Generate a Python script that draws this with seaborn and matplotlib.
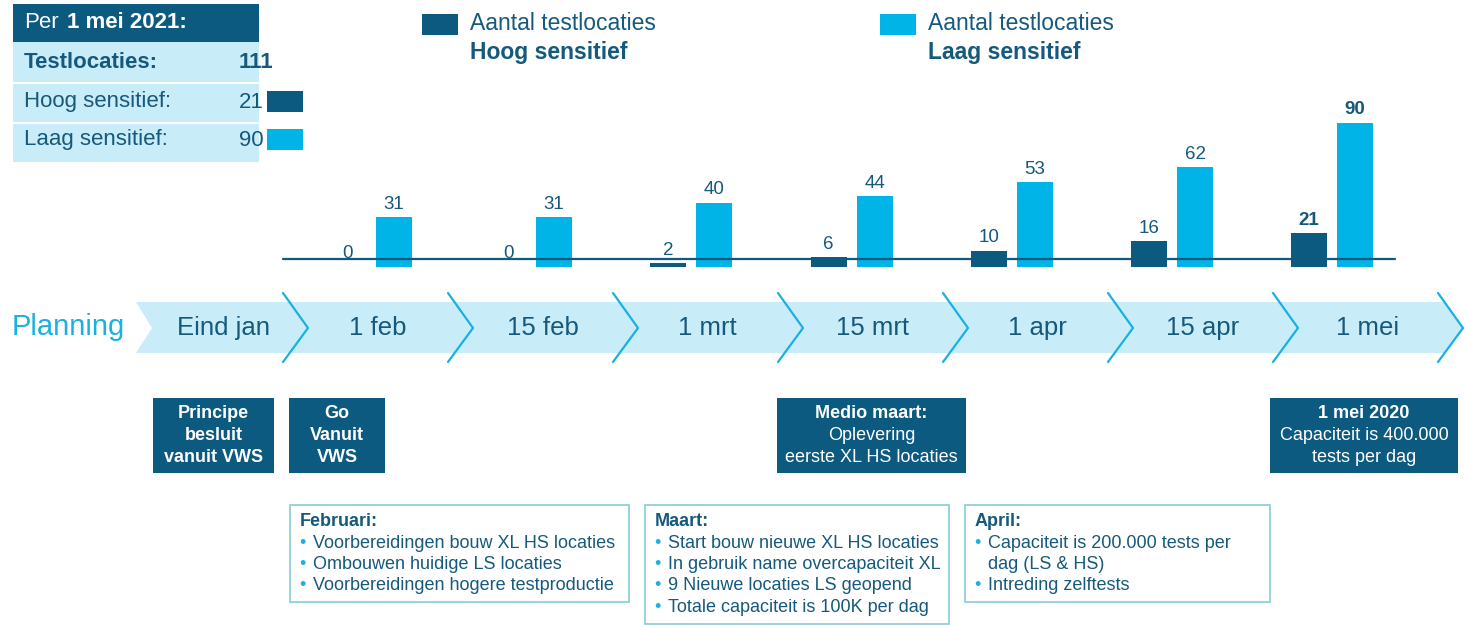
import matplotlib.pyplot as plt
import matplotlib.patches as mpatches
import pandas as pd
import seaborn as sns

# data
datums = ['1 feb', '15 feb', '1 mrt', '15 mrt', '1 apr', '15 apr', '1 mei']
hoog = [0, 0, 2, 6, 10, 16, 21]
laag = [31, 31, 40, 44, 53, 62, 90]
types = ['Hoog sensitief', 'Laag sensitief']

planning = ['Eind jan', '1 feb', '15 feb', '1 mrt', '15 mrt', '1 apr', '15 apr', '1 mei']

mijlpalen = [
    (['Principe', 'besluit', 'vanuit VWS'], [True, True, True]),
    (['Go', 'Vanuit', 'VWS'], [True, True, True]),
    (['Medio maart:', 'Oplevering', 'eerste XL HS locaties'], [True, False, False]),
    (['1 mei 2020', 'Capaciteit is 400.000', 'tests per dag'], [True, False, False]),
]

maanden = [
    ('Februari:', [('•', 'Voorbereidingen bouw XL HS locaties'),
                   ('•', 'Ombouwen huidige LS locaties'),
                   ('•', 'Voorbereidingen hogere testproductie')]),
    ('Maart:', [('•', 'Start bouw nieuwe XL HS locaties'),
                ('•', 'In gebruik name overcapaciteit XL'),
                ('•', '9 Nieuwe locaties LS geopend'),
                ('•', 'Totale capaciteit is 100K per dag')]),
    ('April:', [('•', 'Capaciteit is 200.000 tests per'),
                ('', 'dag (LS & HS)'),
                ('•', 'Intreding zelftests')]),
]

DARK = '#0c5a80'
LIGHT = '#00b4e8'
BAND = '#c9ecf9'
TXT = '#15597c'
CYAN = '#1ab0e2'
OUTLINE = '#86ccd6'

sns.set_style('white')
plt.rcParams['font.family'] = ['Liberation Sans', 'DejaVu Sans']

fig = plt.figure(figsize=(14.65, 6.25), dpi=100)

# background layer in pixel coordinates
bg = fig.add_axes([0, 0, 1, 1], zorder=0)
bg.set_xlim(0, 1465)
bg.set_ylim(625, 0)
bg.set_axis_off()

# summary table top left
bg.add_patch(mpatches.Rectangle((13, 4), 246, 38, color=DARK, lw=0))
bg.add_patch(mpatches.Rectangle((13, 42), 246, 120, color=BAND, lw=0))
for y in [83, 123]:
    bg.plot([13, 259], [y, y], color='white', lw=1.5)
bg.text(24, 23, 'Per', color='white', fontsize=16, va='center')
bg.text(67, 23, '1 mei 2021:', color='white', fontsize=16, va='center', weight='bold')
bg.text(24, 63, 'Testlocaties:', color=TXT, fontsize=16, va='center', weight='bold')
bg.text(239, 63, str(hoog[-1] + laag[-1]), color=TXT, fontsize=16, va='center', weight='bold')
bg.text(24, 102, types[0] + ':', color=TXT, fontsize=16, va='center')
bg.text(239, 102, str(hoog[-1]), color=TXT, fontsize=16, va='center')
bg.add_patch(mpatches.Rectangle((267, 91), 36, 21, color=DARK, lw=0))
bg.text(24, 140, types[1] + ':', color=TXT, fontsize=16, va='center')
bg.text(239, 140, str(laag[-1]), color=TXT, fontsize=16, va='center')
bg.add_patch(mpatches.Rectangle((267, 129), 36, 21, color=LIGHT, lw=0))

# legend
for x, col, t in [(422, DARK, types[0]), (880, LIGHT, types[1])]:
    bg.add_patch(mpatches.Rectangle((x, 14), 36, 21, color=col, lw=0))
    bg.text(x + 48, 24, 'Aantal testlocaties', color=TXT, fontsize=16.5, va='center')
    bg.text(x + 48, 52, t, color=TXT, fontsize=16.5, va='center', weight='bold')

# planning band with chevrons
bg.text(12, 327, 'Planning', color=CYAN, fontsize=21, va='center')
x_last = 283 + 165 * 7
band = [(136, 302), (x_last + 6, 302), (x_last + 25, 328), (x_last + 6, 353),
        (136, 353), (152, 328)]
bg.add_patch(mpatches.Polygon(band, closed=True, color=BAND, lw=0))
for i in range(8):
    x0 = 283 + 165 * i
    bg.plot([x0, x0 + 25, x0], [293, 328, 362], color=CYAN, lw=1.6)
for i, lab in enumerate(planning):
    left = 152 if i == 0 else 283 + 165 * (i - 1) + 12
    right = 283 + 165 * i + 12
    bg.text((left + right) / 2, 328, lab, color=TXT, fontsize=18.5, ha='center', va='center')

# milestone boxes
box_x = [(153, 274), (289, 385), (777, 966), (1270, 1458)]
for (x0, x1), (lines, bolds) in zip(box_x, mijlpalen):
    bg.add_patch(mpatches.Rectangle((x0, 398), x1 - x0, 75, color=DARK, lw=0))
    for j, (line, b) in enumerate(zip(lines, bolds)):
        bg.text((x0 + x1) / 2, 413 + 22 * j, line, color='white', fontsize=13,
                ha='center', va='center', weight='bold' if b else 'normal')

# month boxes
month_x = [(290, 629, 602), (645, 949, 624), (965, 1270, 602)]
for (x0, x1, y1), (head, items) in zip(month_x, maanden):
    bg.add_patch(mpatches.Rectangle((x0, 505), x1 - x0, y1 - 505, fill=False,
                                    edgecolor=OUTLINE, lw=1.2))
    bg.text(x0 + 10, 522, head, color=TXT, fontsize=13, va='center', weight='bold')
    for j, (bul, line) in enumerate(items):
        y = 543 + 21.5 * j
        if bul:
            bg.text(x0 + 12, y, bul, color=CYAN, fontsize=13, va='center', ha='center')
        bg.text(x0 + 23, y, line, color=TXT, fontsize=13, va='center')

# bar chart
df = pd.DataFrame({
    'datum': datums * 2,
    'aantal': hoog + laag,
    'type': [types[0]] * len(datums) + [types[1]] * len(datums),
})
ax = fig.add_axes([283 / 1465, (625 - 266.5) / 625, (1395 - 283) / 1465, 160 / 625], zorder=1)
ax.patch.set_alpha(0)
sns.barplot(data=df, x='datum', y='aantal', hue='type', order=datums, hue_order=types,
            palette=[DARK, LIGHT], width=0.575, gap=0.22, saturation=1, linewidth=0,
            legend=False, ax=ax)
ax.set_xlim(-0.549, 6.392)
ax.set_ylim(0, 100)
ax.axhline(4.5, color=DARK, lw=1.6, zorder=5, clip_on=False)
for c in ax.containers:
    labels = ax.bar_label(c, padding=3, fontsize=13.5, color=TXT)
    labels[-1].set_fontweight('bold')
ax.set_axis_off()

fig.savefig('out.png', dpi=100)
